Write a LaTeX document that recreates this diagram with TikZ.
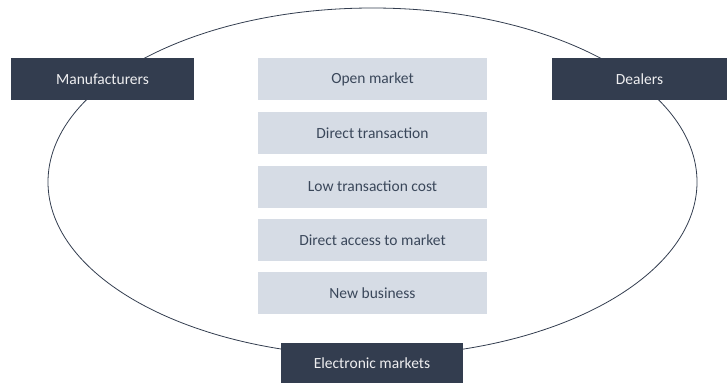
\documentclass[tikz,border=0pt]{standalone}
\usepackage{fontspec}
\setmainfont{Carlito}
\definecolor{darkbox}{HTML}{333D4F}
\definecolor{lightbox}{HTML}{D6DCE5}
\definecolor{lighttext}{HTML}{44546A}
\begin{document}
\begin{tikzpicture}[x=1pt,y=-1pt,
  darkstyle/.style={fill=darkbox, text=white!92!darkbox, font=\fontsize{15.5}{18}\selectfont, inner sep=0pt},
  itemstyle/.style={fill=lightbox, text=lighttext!85!black, font=\fontsize{15.5}{18}\selectfont, inner sep=0pt, minimum width=229pt, minimum height=42pt}]
  \useasboundingbox (0,0) rectangle (727,383);
  % market ellipse
  \draw[darkbox, line width=0.8pt] (372.5,182) ellipse [x radius=324.5, y radius=174];
  % center column of features
  \node[itemstyle] (open) at (372.5,79) {Open market};
  \node[itemstyle] (direct) at (372.5,133) {Direct transaction};
  \node[itemstyle] (low) at (372.5,186.5) {Low transaction cost};
  \node[itemstyle] (access) at (372.5,240) {Direct access to market};
  \node[itemstyle] (newbiz) at (372.5,293) {New business};
  % participants
  \node[darkstyle, minimum width=183pt, minimum height=42pt] (manu) at (102.5,79) {Manufacturers};
  \node[darkstyle, minimum width=175pt, minimum height=42pt] (deal) at (639.5,79) {Dealers};
  \node[darkstyle, minimum width=182pt, minimum height=40pt] (emkt) at (372,363) {Electronic markets};
\end{tikzpicture}
\end{document}
